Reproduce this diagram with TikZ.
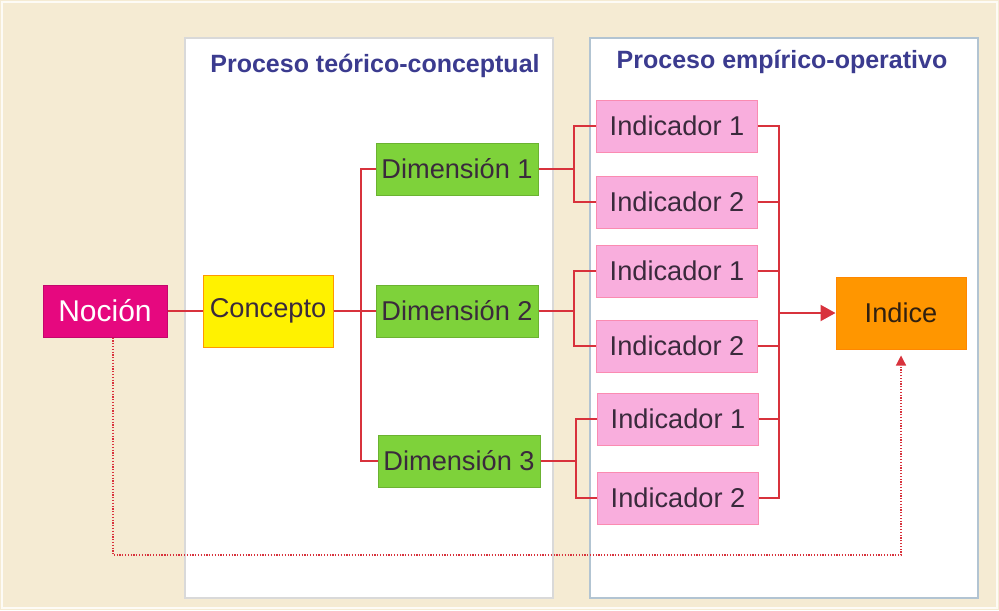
\documentclass[tikz,border=0pt]{standalone}
\usepackage{fontspec}
\setmainfont{Liberation Sans}
\usetikzlibrary{arrows.meta}

\definecolor{beige}{HTML}{F5EBD3}
\definecolor{lineRed}{HTML}{D8323C}
\definecolor{titleBlue}{HTML}{3B3B8F}
\definecolor{nocionFill}{HTML}{E6087F}
\definecolor{conceptoFill}{HTML}{FFF200}
\definecolor{dimFill}{HTML}{7ED23A}
\definecolor{indFill}{HTML}{F9AEDD}
\definecolor{indiceFill}{HTML}{FF9600}
\definecolor{textDark}{HTML}{3A2A3C}
\definecolor{panelBlue}{HTML}{B2C4D2}

\begin{document}
\begin{tikzpicture}[x=0.5pt, y=-0.5pt,
    box/.style={draw, line width=0.5pt, inner sep=0pt, minimum height=26pt,
                font=\fontsize{13.6}{16}\selectfont, text=textDark},
    nocionbox/.style={box, draw=nocionFill!85!black, fill=nocionFill, text=white, minimum width=62pt,
                font=\fontsize{15}{18}\selectfont},
    conceptobox/.style={box, draw=orange!80!yellow, fill=conceptoFill, minimum width=65pt, minimum height=36pt},
    dimbox/.style={box, draw=dimFill!85!black, fill=dimFill, minimum width=81pt},
    indbox/.style={box, draw=red!20!indFill, fill=indFill, minimum width=80.5pt},
    indicebox/.style={box, draw=indiceFill!90!red, fill=indiceFill, minimum width=65pt, minimum height=36pt, text=black!75!brown},
    paneltitle/.style={font=\bfseries\fontsize{12.5}{15}\selectfont, text=titleBlue},
    conn/.style={lineRed, line width=1pt},
    dotline/.style={lineRed, line width=0.6pt, dash pattern=on 0.6pt off 0.8pt}]

\useasboundingbox (0,0) rectangle (999,610);

% ============================
\fill[beige] (0,0) rectangle (999,610);
\draw[white!80!beige, line width=1pt] (2,2) rectangle (997,608);

\draw[black!15, fill=white, line width=0.6pt] (185,38) rectangle (553,598);
\draw[panelBlue, fill=white, line width=0.7pt] (590,38) rectangle (978,598);

\node[paneltitle] (tit1) at (375,66) {Proceso teórico-conceptual};
\node[paneltitle] (tit2) at (782,62) {Proceso empírico-operativo};

% ============================
\node[nocionbox] (nocion) at (105,311) {Noción};
\node[conceptobox] (concepto) at (268,311) {Concepto};

\node[dimbox] (dim1) at (457,169) {Dimensión 1};
\node[dimbox] (dim2) at (457,311) {Dimensión 2};
\node[dimbox] (dim3) at (459,461) {Dimensión 3};

% ============================
\node[indbox] (ind1a) at (677,126) {Indicador 1};
\node[indbox] (ind2a) at (677,202) {Indicador 2};
\node[indbox] (ind1b) at (677,271) {Indicador 1};
\node[indbox] (ind2b) at (677,346) {Indicador 2};
\node[indbox] (ind1c) at (678,419) {Indicador 1};
\node[indbox] (ind2c) at (678,498) {Indicador 2};

\node[indicebox] (indice) at (901,313) {Indice};

% ============================
\draw[conn] (nocion) -- (concepto);
\draw[conn] (concepto) -- (dim2);
\draw[conn] (concepto.east) -- ++(27,0) |- (dim1.west);
\draw[conn] (concepto.east) -- ++(27,0) |- (dim3.west);

\foreach \d/\i/\j in {dim1/ind1a/ind2a, dim2/ind1b/ind2b, dim3/ind1c/ind2c} {
    \draw[conn] (\d.east) -- ++(35,0) |- (\i.west);
    \draw[conn] (\d.east) -- ++(35,0) |- (\j.west);
}

\draw[conn] (ind1a.east) -- ++(21,0) coordinate (bustop) |- (ind2c.east);
\foreach \n in {ind2a, ind1b, ind2b, ind1c}
    \draw[conn] (\n.east) -- (\n.east -| bustop);
\draw[conn, -{Triangle[length=7.5pt, width=8pt]}] (bustop |- indice.west) -- (indice.west);

% ============================
\coordinate (lowline) at (0,555);
\draw[dotline, -{Triangle[length=5pt, width=5pt]}]
    ([xshift=4pt]nocion.south) -- ([xshift=4pt]nocion.south |- lowline)
    -| ([yshift=-3pt]indice.south);

\end{tikzpicture}
\end{document}
